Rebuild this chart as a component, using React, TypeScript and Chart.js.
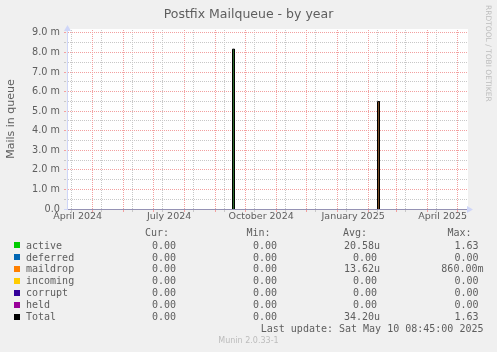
import React, { useEffect, useRef } from "react";
import { Chart, registerables } from "chart.js";

Chart.register(...registerables);

// ---------- data ----------
const rangeStart = "2024-04-05T08:45:00Z";
const rangeEnd = "2025-05-10T08:45:00Z";

const activeTimes = ["2024-09-17T20:45:00Z", "2024-09-17T20:45:00Z", "2024-09-19T20:45:00Z", "2024-09-19T20:45:00Z"];
const activeValues = [0, 0.00817, 0.00817, 0];

const maildropTimes = ["2025-02-09T20:45:00Z", "2025-02-09T20:45:00Z", "2025-02-11T20:45:00Z", "2025-02-11T20:45:00Z"];
const maildropValues = [0, 0.00549, 0.00549, 0];

const totalTimes = [
  "2024-09-17T20:45:00Z", "2024-09-17T20:45:00Z", "2024-09-19T20:45:00Z", "2024-09-19T20:45:00Z",
  "2024-12-15T00:00:00Z",
  "2025-02-09T20:45:00Z", "2025-02-09T20:45:00Z", "2025-02-11T20:45:00Z", "2025-02-11T20:45:00Z",
];
const totalValues: (number | null)[] = [0, 0.00817, 0.00817, 0, null, 0, 0.00549, 0.00549, 0];

const monthStarts = [
  "2024-05-01", "2024-06-01", "2024-07-01", "2024-08-01", "2024-09-01", "2024-10-01",
  "2024-11-01", "2024-12-01", "2025-01-01", "2025-02-01", "2025-03-01", "2025-04-01", "2025-05-01",
];
const minorGridDates = [
  "2024-04-10", "2024-05-10", "2024-06-10", "2024-07-10", "2024-08-10", "2024-09-10", "2024-10-10",
  "2024-11-10", "2024-12-10", "2025-01-10", "2025-02-10", "2025-03-10", "2025-04-10",
];
const xLabelMonths = ["2024-04", "2024-07", "2024-10", "2025-01", "2025-04"];
const xLabels = ["April 2024", "July 2024", "October 2024", "January 2025", "April 2025"];

const yMax = 0.0092;
const yStep = 0.0005;

const legendNames = ["active", "deferred", "maildrop", "incoming", "corrupt", "held", "Total"];
const legendColors = ["#00CC00", "#0066B3", "#FF8000", "#FFCC00", "#330099", "#990099", "#000000"];
const curValues = ["0.00", "0.00", "0.00", "0.00", "0.00", "0.00", "0.00"];
const minValues = ["0.00", "0.00", "0.00", "0.00", "0.00", "0.00", "0.00"];
const avgValues = ["20.58u", "0.00", "13.62u", "0.00", "0.00", "0.00", "34.20u"];
const maxValues = ["1.63", "0.00", "860.00m", "0.00", "0.00", "0.00", "1.63"];

const titleText = "Postfix Mailqueue - by year";
const yTitle = "Mails in queue";
const lastUpdate = "Last update: Sat May 10 08:45:00 2025";
const footer = "Munin 2.0.33-1";
const sideText = "RRDTOOL / TOBI OETIKER";

// ---------- helpers ----------
const DAY_MS = 86400000;
const t0 = Date.parse(rangeStart);
const dayOf = (s: string) => (Date.parse(s.length === 10 ? s + "T00:00:00Z" : s) - t0) / DAY_MS;
const nextMonth = (m: string) => {
  const [y, mo] = m.split("-").map(Number);
  const ny = mo === 12 ? y + 1 : y;
  const nm = mo === 12 ? 1 : mo + 1;
  return `${ny}-${String(nm).padStart(2, "0")}`;
};

const RED = "#f3a0a0";
const GRAY = "#c8c8c8";
const TEXT = "#5e5e5e";

const majorX = monthStarts.map((d) => dayOf(d));
const minorX = minorGridDates.map((d) => dayOf(d));
const labelX = xLabelMonths.map((m) => (dayOf(m + "-01") + dayOf(nextMonth(m) + "-01")) / 2);

const isMajorY = (v: number) => Math.round(v * 2000) % 2 === 0;
const fmtY = (v: number) => (Math.abs(v) < 1e-12 ? "0.0" : (v * 1000).toFixed(1) + " m");
const yTickValues: number[] = [];
for (let k = 0; k * yStep <= 0.009 + 1e-9; k++) yTickValues.push(k * yStep);

const toPoints = (times: string[], vals: (number | null)[]) =>
  times.map((t, i) => ({ x: dayOf(t), y: vals[i] }));

const pix = (p: number) => Math.round(p - 0.5);

const decor = {
  id: "decor",
  beforeDraw(chart: any) {
    const { ctx, chartArea } = chart;
    const { left, top, right, bottom } = chartArea;
    ctx.save();
    ctx.fillStyle = "#ffffff";
    ctx.fillRect(left, top, right - left + 1, bottom - top);
    ctx.restore();
  },
  beforeDatasetsDraw(chart: any) {
    const { ctx, chartArea, scales } = chart;
    const { left, top, right, bottom } = chartArea;
    const xs = scales.x;
    const ys = scales.y;
    const L = Math.round(left);
    const R = Math.round(right);
    const T = Math.round(top);
    const B = Math.round(bottom);
    ctx.save();
    const hDots = (v: number, color: string) => {
      const py = pix(ys.getPixelForValue(v));
      ctx.fillStyle = color;
      for (let x = L + 1; x <= R; x += 2) ctx.fillRect(x, py, 1, 1);
      ctx.fillRect(L - 3, py, 2, 1);
    };
    const vDots = (v: number, color: string) => {
      const px = pix(xs.getPixelForValue(v));
      if (px <= L || px > R) return;
      ctx.fillStyle = color;
      for (let y = B - 1; y >= T; y -= 2) ctx.fillRect(px, y, 1, 1);
      ctx.fillRect(px, B + 1, 1, 2);
    };
    yTickValues.filter((v) => !isMajorY(v)).forEach((v) => hDots(v, GRAY));
    minorX.forEach((v) => vDots(v, GRAY));
    yTickValues.filter((v) => isMajorY(v) && v > 0).forEach((v) => hDots(v, RED));
    majorX.forEach((v) => vDots(v, RED));
    ctx.restore();
  },
  afterDraw(chart: any) {
    const { ctx, chartArea } = chart;
    const { left, top, right, bottom } = chartArea;
    const ax = Math.round(left) + 0.5;
    const by = Math.round(bottom) + 0.5;
    ctx.save();
    ctx.fillStyle = "#cfd6f8";
    ctx.strokeStyle = "#cfd6f8";
    ctx.lineWidth = 1;
    ctx.beginPath();
    ctx.moveTo(ax, top - 4);
    ctx.lineTo(ax - 3.5, top + 2);
    ctx.lineTo(ax + 3.5, top + 2);
    ctx.closePath();
    ctx.fill();
    ctx.beginPath();
    ctx.moveTo(right + 6, by);
    ctx.lineTo(right, by - 3.5);
    ctx.lineTo(right, by + 3.5);
    ctx.closePath();
    ctx.fill();
    ctx.beginPath();
    ctx.moveTo(left - 3, by);
    ctx.lineTo(left, by);
    ctx.stroke();
    ctx.restore();
  },
};

export default function App() {
  const ref = useRef<HTMLCanvasElement>(null);

  useEffect(() => {
    const chart = new Chart(ref.current as HTMLCanvasElement, {
      type: "line",
      data: {
        datasets: [
          {
            label: "Total",
            data: toPoints(totalTimes, totalValues) as any,
            borderColor: "#000000",
            borderWidth: 1,
            fill: false,
            pointRadius: 0,
            spanGaps: false,
            tension: 0,
          },
          {
            label: "active",
            data: toPoints(activeTimes, activeValues) as any,
            borderWidth: 0,
            borderColor: "rgba(0,0,0,0)",
            backgroundColor: "#2a6a2a",
            fill: "origin",
            pointRadius: 0,
            tension: 0,
          },
          {
            label: "maildrop",
            data: toPoints(maildropTimes, maildropValues) as any,
            borderWidth: 0,
            borderColor: "rgba(0,0,0,0)",
            backgroundColor: "#7a4e26",
            fill: "origin",
            pointRadius: 0,
            tension: 0,
          },
        ],
      },
      options: {
        responsive: false,
        animation: false,
        devicePixelRatio: 1,
        events: [],
        layout: { padding: { top: 29, right: 30, left: 0, bottom: 0 } },
        plugins: { legend: { display: false }, tooltip: { enabled: false }, title: { display: false } },
        scales: {
          x: {
            type: "linear",
            min: 0,
            max: dayOf(rangeEnd),
            afterBuildTicks: (scale: any) => {
              scale.ticks = labelX.map((v) => ({ value: v }));
            },
            afterFit: (scale: any) => {
              scale.height = 143;
            },
            ticks: {
              autoSkip: false,
              maxRotation: 0,
              minRotation: 0,
              padding: 0,
              color: TEXT,
              font: { family: "'DejaVu Sans'", size: 9.5 },
              callback: (_v: any, i: number) => xLabels[i] ?? "",
            },
            grid: { display: false, drawTicks: true, tickLength: 2 },
            border: { display: true, color: "#9592b4", width: 1, z: 1 },
          },
          y: {
            type: "linear",
            min: 0,
            max: yMax,
            afterBuildTicks: (scale: any) => {
              scale.ticks = yTickValues.filter(isMajorY).map((v) => ({ value: v }));
            },
            afterFit: (scale: any) => {
              scale.width = 67;
            },
            ticks: {
              autoSkip: false,
              padding: 4,
              color: TEXT,
              font: { family: "'DejaVu Sans'", size: 9.7 },
              callback: (v: any) => fmtY(Number(v)),
            },
            grid: { display: false, drawTicks: true, tickLength: 3 },
            border: { display: true, color: "#cfd6f8", width: 1, z: 1 },
            title: {
              display: true,
              text: yTitle,
              color: TEXT,
              font: { family: "'DejaVu Sans'", size: 11 },
              padding: { top: 5, bottom: 0 },
            },
          },
        },
      },
      plugins: [decor],
    } as any);
    return () => chart.destroy();
  }, []);

  const mono = "'DejaVu Sans Mono', monospace";
  const rowY = (i: number) => 245.6 + i * 11.93;
  const lh = 12;

  const cell = (text: string, right: number, cy: number, key: string) => (
    <div
      key={key}
      style={{
        position: "absolute",
        right: 497 - right,
        top: cy - lh / 2,
        lineHeight: lh + "px",
        fontSize: 10,
        fontFamily: mono,
        whiteSpace: "pre",
        textAlign: "right",
      }}
    >
      {text}
    </div>
  );
  const leftCell = (text: string, left: number, cy: number, key: string) => (
    <div
      key={key}
      style={{
        position: "absolute",
        left,
        top: cy - lh / 2,
        lineHeight: lh + "px",
        fontSize: 10,
        fontFamily: mono,
        whiteSpace: "pre",
      }}
    >
      {text}
    </div>
  );
  const hasSuffix = (v: string) => /[a-zA-Z]$/.test(v);

  return (
    <div
      style={{
        position: "fixed",
        left: 0,
        top: 0,
        width: 497,
        height: 352,
        background: "#f0f0f0",
        overflow: "hidden",
        fontFamily: "'DejaVu Sans', sans-serif",
        color: TEXT,
      }}
    >
      <canvas
        ref={ref}
        width={497}
        height={352}
        style={{ position: "absolute", left: 0, top: 0, width: 497, height: 352 }}
      />
      <div
        style={{
          position: "absolute",
          left: 0,
          top: 6,
          width: 497,
          textAlign: "center",
          fontSize: 12.5,
          lineHeight: "16px",
        }}
      >
        {titleText}
      </div>
      <div
        style={{
          position: "absolute",
          left: 484,
          top: 5,
          writingMode: "vertical-rl",
          fontSize: 7.5,
          lineHeight: "8px",
          color: "#bdbdbd",
          whiteSpace: "pre",
        }}
      >
        {sideText}
      </div>

      {leftCell("Cur:", 145, 233.3, "hc")}
      {leftCell("Min:", 246.4, 233.3, "hm")}
      {leftCell("Avg:", 343, 233.3, "ha")}
      {leftCell("Max:", 447.5, 233.3, "hx")}

      {legendNames.map((n, i) => (
        <React.Fragment key={n}>
          <div
            style={{
              position: "absolute",
              left: 14,
              top: rowY(i) - 3.4,
              width: 6,
              height: 6,
              background: legendColors[i],
            }}
          />
          {leftCell(n, 26, rowY(i), "n" + i)}
          {cell(curValues[i], 176, rowY(i), "c" + i)}
          {cell(minValues[i], 277, rowY(i), "m" + i)}
          {cell(avgValues[i], hasSuffix(avgValues[i]) ? 380 : 377, rowY(i), "a" + i)}
          {cell(maxValues[i], hasSuffix(maxValues[i]) ? 483.5 : 478.5, rowY(i), "x" + i)}
        </React.Fragment>
      ))}

      {cell(lastUpdate, 483.5, 329.3, "lu")}
      <div
        style={{
          position: "absolute",
          left: 0,
          top: 341 - 5,
          width: 497,
          textAlign: "center",
          fontSize: 8,
          lineHeight: "10px",
          color: "#bcbcbc",
        }}
      >
        {footer}
      </div>
    </div>
  );
}
